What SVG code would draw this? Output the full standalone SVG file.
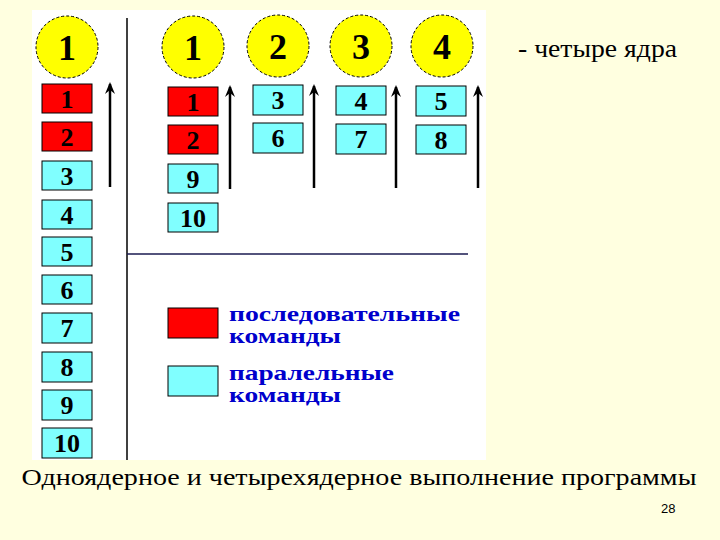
<svg xmlns="http://www.w3.org/2000/svg" width="720" height="540" viewBox="0 0 720 540">
<style>
.c{fill:#ffff00;stroke:#000;stroke-width:1;stroke-dasharray:3 2}
.ct{font-family:"Liberation Serif",serif;font-weight:bold;font-size:36px;text-anchor:middle}
.r{fill:#ff0000;stroke:#000;stroke-width:1}
.b{fill:#80ffff;stroke:#000;stroke-width:1}
.bt{font-family:"Liberation Serif",serif;font-weight:bold;font-size:26px;text-anchor:middle}
.lg{font-family:"Liberation Serif",serif;font-weight:bold;font-size:21px;fill:#0000cc}
.a{stroke:#000;stroke-width:2.5;marker-end:url(#ah)}
</style>
<defs><marker id="ah" markerWidth="12" markerHeight="10" refX="10" refY="5" orient="auto" markerUnits="userSpaceOnUse" viewBox="0 0 12 10"><path d="M0 0 L12 5 L0 10 L4 5 Z" fill="#000"/></marker></defs>
<rect width="720" height="540" fill="#ffffe0"/>
<rect x="32" y="10" width="454" height="450" fill="#fff"/>
<g id="frame"><line x1="127" y1="18" x2="127" y2="460" stroke="#000" stroke-width="1.5"/><line x1="127" y1="254" x2="468" y2="254" stroke="#1a1a50" stroke-width="1.5"/></g>
<g id="cores">
<circle class="c" cx="67" cy="47" r="31"/><text class="ct" x="67" y="60">1</text>
<circle class="c" cx="193" cy="47" r="31"/><text class="ct" x="193" y="60">1</text>
<circle class="c" cx="278" cy="46" r="31"/><text class="ct" x="278" y="59">2</text>
<circle class="c" cx="361" cy="46" r="31"/><text class="ct" x="361" y="59">3</text>
<circle class="c" cx="442" cy="46" r="31"/><text class="ct" x="442" y="59">4</text>
</g>
<g id="single">
<rect class="r" x="42" y="84" width="50" height="29"/><text class="bt" x="67" y="108">1</text>
<rect class="r" x="42" y="122" width="50" height="29"/><text class="bt" x="67" y="146">2</text>
<rect class="b" x="42" y="161" width="50" height="29"/><text class="bt" x="67" y="185">3</text>
<rect class="b" x="42" y="200" width="50" height="29"/><text class="bt" x="67" y="224">4</text>
<rect class="b" x="42" y="237" width="50" height="29"/><text class="bt" x="67" y="261">5</text>
<rect class="b" x="42" y="275" width="50" height="29"/><text class="bt" x="67" y="299">6</text>
<rect class="b" x="42" y="313" width="50" height="30"/><text class="bt" x="67" y="337">7</text>
<rect class="b" x="42" y="352" width="50" height="30"/><text class="bt" x="67" y="376">8</text>
<rect class="b" x="42" y="390" width="50" height="30"/><text class="bt" x="67" y="414">9</text>
<rect class="b" x="42" y="428" width="50" height="30"/><text class="bt" x="67" y="452">10</text>
</g>
<g id="core1">
<rect class="r" x="168" y="87" width="50" height="29"/><text class="bt" x="193" y="111">1</text>
<rect class="r" x="168" y="125" width="50" height="29"/><text class="bt" x="193" y="149">2</text>
<rect class="b" x="168" y="164" width="50" height="29"/><text class="bt" x="193" y="188">9</text>
<rect class="b" x="168" y="203" width="50" height="29"/><text class="bt" x="193" y="227">10</text>
</g>
<g id="core2">
<rect class="b" x="253" y="85" width="50" height="30"/><text class="bt" x="278" y="109">3</text>
<rect class="b" x="253" y="123" width="50" height="30"/><text class="bt" x="278" y="147">6</text>
</g>
<g id="core3">
<rect class="b" x="336" y="86" width="50" height="29"/><text class="bt" x="361" y="110">4</text>
<rect class="b" x="336" y="124" width="50" height="30"/><text class="bt" x="361" y="148">7</text>
</g>
<g id="core4">
<rect class="b" x="416" y="86" width="50" height="30"/><text class="bt" x="441" y="110">5</text>
<rect class="b" x="416" y="125" width="50" height="29"/><text class="bt" x="441" y="149">8</text>
</g>
<g id="connectors">
<line class="a" x1="110" y1="187" x2="110" y2="84"/>
<line class="a" x1="230" y1="189" x2="230" y2="87"/>
<line class="a" x1="314" y1="188" x2="314" y2="86"/>
<line class="a" x1="396" y1="188" x2="396" y2="87"/>
<line class="a" x1="478" y1="188" x2="478" y2="87"/>
</g>
<g id="legend">
<rect class="r" x="168" y="308" width="50" height="30"/>
<rect class="b" x="168" y="366" width="50" height="30"/>
<text class="lg" x="229" y="321" textLength="231" lengthAdjust="spacingAndGlyphs">последовательные</text>
<text class="lg" x="229" y="343" textLength="112" lengthAdjust="spacingAndGlyphs">команды</text>
<text class="lg" x="229" y="380" textLength="165" lengthAdjust="spacingAndGlyphs">паралельные</text>
<text class="lg" x="229" y="402" textLength="112" lengthAdjust="spacingAndGlyphs">команды</text>
</g>
<text x="518" y="57" font-family="Liberation Serif,serif" font-size="26" textLength="159" lengthAdjust="spacingAndGlyphs">- четыре ядра</text>
<text x="359" y="485" text-anchor="middle" font-family="Liberation Serif,serif" font-size="24" textLength="675" lengthAdjust="spacingAndGlyphs">Одноядерное и четырехядерное выполнение программы</text>
<text x="661" y="513" font-family="Liberation Sans,sans-serif" font-size="13">28</text>
</svg>
